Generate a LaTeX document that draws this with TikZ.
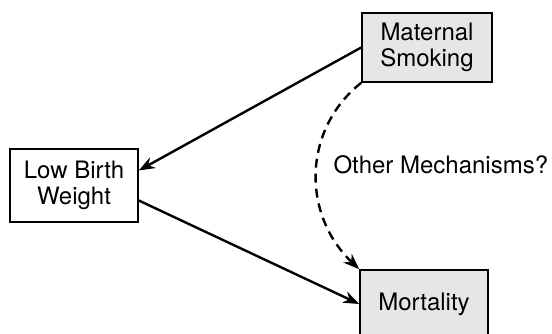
\documentclass[tikz,border=0pt]{standalone}
\usepackage{fontspec}
\setmainfont{TeX Gyre Heros}
\usetikzlibrary{arrows.meta}

\begin{document}
\begin{tikzpicture}[x=1pt,y=1pt,
  factor/.style={draw,line width=1.6pt,inner sep=0pt,align=center,
    minimum width=128,font=\fontsize{24}{26}\selectfont},
  shaded/.style={factor,fill=stipple},
  effect/.style={line width=2.4pt,-{Stealth[length=16pt,width=12pt]}}]
\definecolor{stipple}{HTML}{E6E6E6}
\useasboundingbox (0,0) rectangle (552,334);
\node [shaded,minimum width=130,minimum height=69] (smoking) at (427,286.5) {Maternal\\Smoking};
\node [factor,minimum height=73] (lbw) at (74,148.5) {Low Birth\\Weight};
\node [shaded,minimum height=68] (mortality) at (424,30) {Mortality};
\node [anchor=west,font=\fontsize{24}{26}\selectfont] (other) at (330,169) {Other Mechanisms?};
  \draw [effect] (smoking.west) -- ([yshift=15]lbw.east);
  \draw [effect] ([yshift=-15]lbw.east) -- (mortality.west);
  \draw [effect,dashed,dash pattern=on 9pt off 6pt] (smoking.south west) .. controls (302,204) and (302,119) .. (mortality.north west);
\end{tikzpicture}
\end{document}
